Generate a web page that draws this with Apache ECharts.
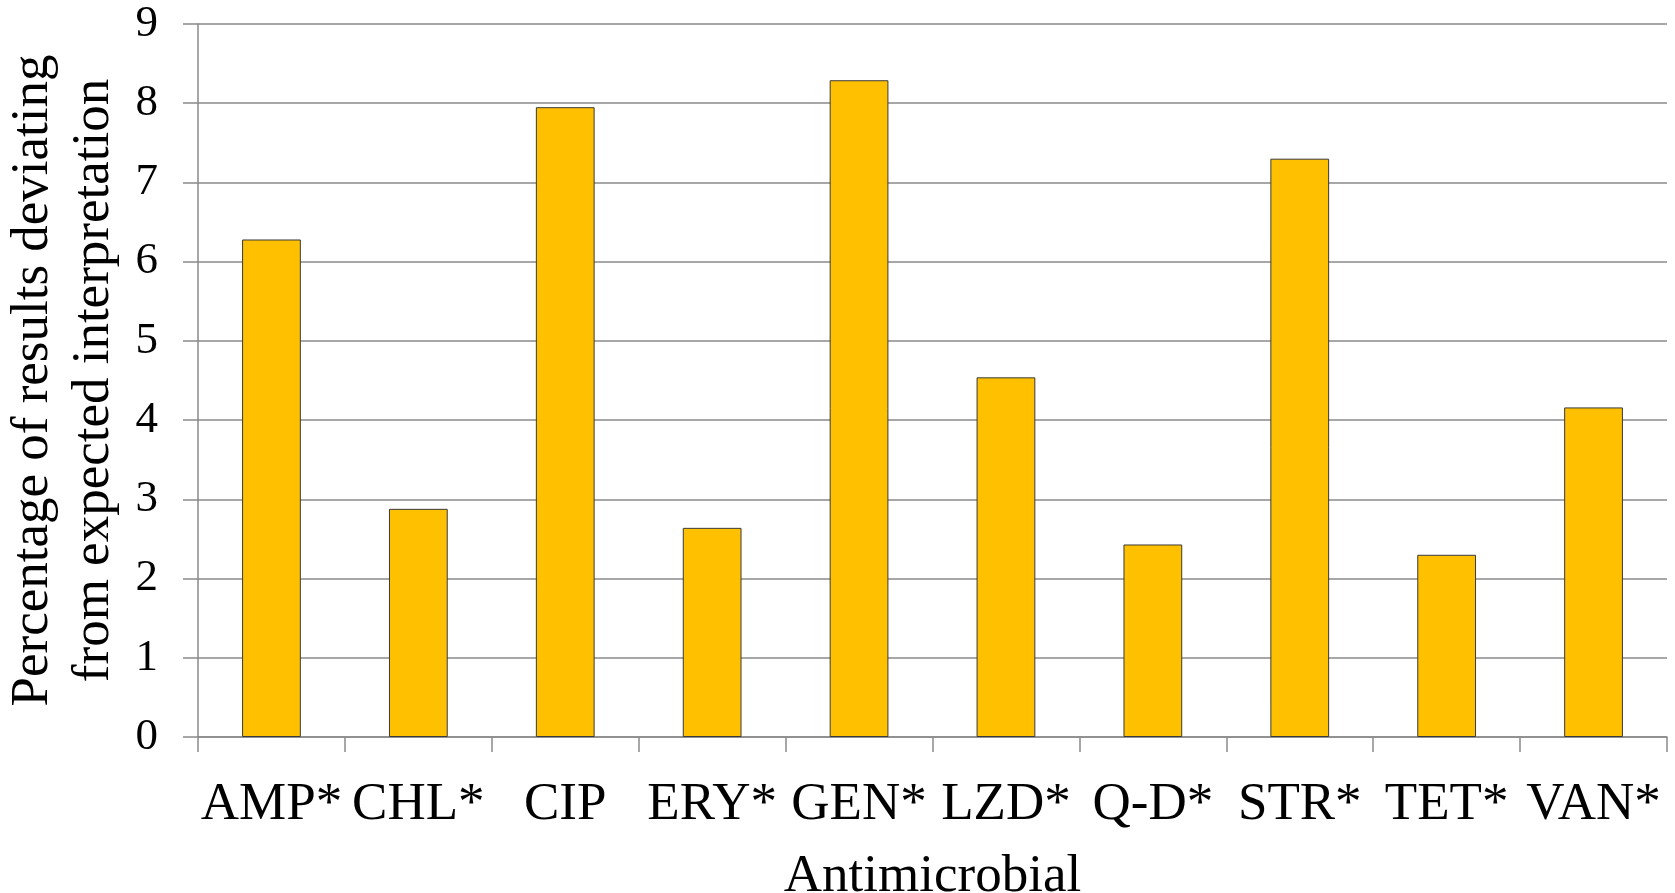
<!DOCTYPE html>
<html>
<head>
<meta charset="utf-8">
<script src="https://cdn.jsdelivr.net/npm/echarts@6/dist/echarts.min.js"></script>
<style>
  html, body { margin: 0; padding: 0; background: #fff; }
  #chart { width: 1675px; height: 893px; }
</style>
</head>
<body>
<div id="chart"></div>
<script>
// Antimicrobial agents on the category axis
const categories = ['AMP*', 'CHL*', 'CIP', 'ERY*', 'GEN*', 'LZD*', 'Q-D*', 'STR*', 'TET*', 'VAN*'];
// Percentage of results deviating from the expected interpretation
const deviationPct = [6.28, 2.88, 7.95, 2.64, 8.29, 4.54, 2.43, 7.30, 2.30, 4.16];
// Value axis range
const yMin = 0;
const yMax = 9;
const yStep = 1;

const FONT = '"Liberation Serif", "Times New Roman", serif';
const GRID_GRAY = '#8a8a8a';

const chart = echarts.init(document.getElementById('chart'), null, { renderer: 'canvas' });

chart.setOption({
  animation: false,
  backgroundColor: '#ffffff',
  grid: { left: 198, right: 8, top: 24, bottom: 156, containLabel: false, outerBoundsMode: 'none' },
  xAxis: {
    type: 'category',
    data: categories,
    boundaryGap: true,
    name: 'Antimicrobial',
    nameLocation: 'middle',
    nameGap: 114,
    nameTextStyle: { fontFamily: FONT, fontSize: 53, color: '#000' },
    axisLine: { show: true, lineStyle: { color: GRID_GRAY, width: 1.5 } },
    axisTick: { show: true, length: 15, lineStyle: { color: GRID_GRAY, width: 1.5 } },
    axisLabel: { interval: 0, margin: 42, fontFamily: FONT, fontSize: 53, color: '#000' },
    splitLine: { show: false }
  },
  yAxis: {
    type: 'value',
    min: yMin,
    max: yMax,
    interval: yStep,
    name: 'Percentage of results deviating\nfrom expected interpretation',
    nameLocation: 'middle',
    nameGap: 64,
    nameRotate: 90,
    nameTextStyle: { fontFamily: FONT, fontSize: 53, lineHeight: 61, color: '#000' },
    axisLine: { show: true, lineStyle: { color: GRID_GRAY, width: 1.5 } },
    axisTick: { show: true, length: 15, lineStyle: { color: GRID_GRAY, width: 1.5 } },
    axisLabel: { margin: 40, fontFamily: FONT, fontSize: 45, color: '#000' },
    splitLine: { show: true, lineStyle: { color: GRID_GRAY, width: 1.5 } }
  },
  series: [{
    type: 'bar',
    data: deviationPct,
    barCategoryGap: '60%',
    itemStyle: { color: '#FFC000', borderColor: '#3a3a3a', borderWidth: 1 }
  }]
});
</script>
</body>
</html>
